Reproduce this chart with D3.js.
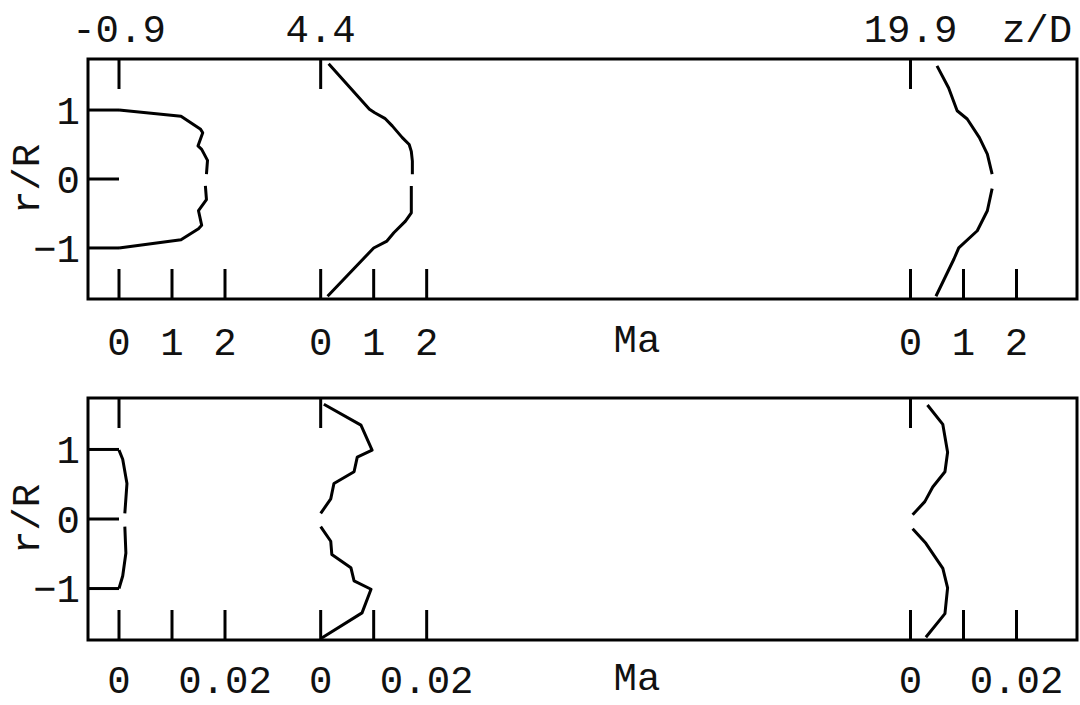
<!DOCTYPE html>
<html>
<head>
<meta charset="utf-8">
<title>Mach number profiles</title>
<script src="https://cdnjs.cloudflare.com/ajax/libs/d3/7.8.5/d3.min.js"></script>
<style>
  html, body { margin: 0; padding: 0; background: #fff; }
  svg text { font-family: "Courier New", "Liberation Mono", monospace; font-size: 39px; fill: #111; }
</style>
</head>
<body>
<div id="chart"></div>
<script>
// axial stations (z/D) and their labels
const zStations = [-0.9, 4.4, 19.9];
const zLabels = ["-0.9", "4.4", "19.9"];
const rTicks = [-1, 0, 1];
const wallR = [1, 0, -1];

// Ma ticks under each station
const maTicksTop = [0, 1, 2];
const maLabelsTop = ["0", "1", "2"];
const maTicksBottom = [0, 0.01, 0.02];
const maLabelsBottom = ["0", "", "0.02"];

// profiles as [r/R, Ma]; null breaks the line at the axis
const meanMa_m09 = [[1.0, 0], [0.91, 1.17], [0.72, 1.54], [0.67, 1.58], [0.48, 1.49], [0.43, 1.56], [0.27, 1.67], [0.07, 1.65], null,
  [-0.10, 1.63], [-0.30, 1.65], [-0.46, 1.50], [-0.67, 1.56], [-0.72, 1.50], [-0.88, 1.17], [-1.0, 0]];
const meanMa_44 = [[1.67, 0.15], [1.01, 0.92], [0.96, 1.02], [0.88, 1.21], [0.77, 1.35], [0.60, 1.54], [0.50, 1.67], [0.40, 1.71], [0.26, 1.73], [0.07, 1.73], null,
  [-0.10, 1.71], [-0.49, 1.71], [-0.61, 1.60], [-0.78, 1.38], [-0.90, 1.25], [-1.0, 1.0], [-1.70, 0.13]];
const meanMa_199 = [[1.64, 0.50], [1.32, 0.72], [0.99, 0.88], [0.87, 1.07], [0.60, 1.30], [0.36, 1.45], [0.07, 1.54], null,
  [-0.14, 1.54], [-0.46, 1.45], [-0.75, 1.26], [-1.0, 0.91], [-1.16, 0.82], [-1.70, 0.48]];

const rmsMa_m09 = [[0.99, 0], [0.86, 0.0007], [0.51, 0.0015], [0.08, 0.0011], null,
  [-0.11, 0.0011], [-0.49, 0.0013], [-0.82, 0.0007], [-1.0, 0]];
const rmsMa_44 = [[1.65, 0.0006], [1.35, 0.0076], [0.99, 0.0097], [0.89, 0.0069], [0.68, 0.0063], [0.51, 0.0025], [0.29, 0.0019], [0.08, 0.0], null,
  [-0.11, 0.0], [-0.32, 0.0019], [-0.51, 0.0021], [-0.70, 0.0057], [-0.89, 0.0063], [-1.01, 0.0095], [-1.35, 0.0078], [-1.71, 0.0002]];
const rmsMa_199 = [[1.64, 0.0032], [1.36, 0.0061], [0.96, 0.0070], [0.68, 0.0065], [0.46, 0.0042], [0.25, 0.0027], [0.06, 0.0004], null,
  [-0.14, 0.0004], [-0.35, 0.0029], [-0.71, 0.0061], [-0.99, 0.0070], [-1.36, 0.0065], [-1.70, 0.0029]];

const width = 1080, height = 705;
const left = 88, right = 1077;
const tickLen = 30;

const svg = d3.select("#chart").append("svg")
  .attr("width", width)
  .attr("height", height);

const zScale = d3.scaleLinear().domain([-0.9, 19.9]).range([119, 910.5]);

// z/D labels on top
svg.append("g").selectAll("text")
  .data(zStations)
  .enter().append("text")
  .attr("x", d => zScale(d))
  .attr("y", 42)
  .attr("text-anchor", "middle")
  .text((d, i) => zLabels[i]);

svg.append("text")
  .attr("x", 1037).attr("y", 42)
  .attr("text-anchor", "middle")
  .text("z/D");

const panels = [
  { top: 59, bottom: 299, maMax: 1, ticks: maTicksTop, labels: maLabelsTop, labelY: 355, profiles: [meanMa_m09, meanMa_44, meanMa_199] },
  { top: 398, bottom: 640, maMax: 0.01, ticks: maTicksBottom, labels: maLabelsBottom, labelY: 693, profiles: [rmsMa_m09, rmsMa_44, rmsMa_199] }
];

panels.forEach(p => {
  const g = svg.append("g");

  const rScale = d3.scaleLinear().domain([-1.74, 1.74]).range([p.bottom, p.top]);
  // Ma offset scale, ~53 px per unit (top) or per 0.01 (bottom)
  const maScale = d3.scaleLinear().domain([0, p.maMax]).range([0, 53]);

  // frame
  g.append("rect")
    .attr("x", left).attr("y", p.top)
    .attr("width", right - left).attr("height", p.bottom - p.top)
    .attr("fill", "none")
    .attr("stroke", "#000")
    .attr("stroke-width", 3);

  // nozzle walls and axis up to the first station
  g.selectAll(".wall")
    .data(wallR)
    .enter().append("line")
    .attr("x1", left).attr("x2", zScale(zStations[0]))
    .attr("y1", d => rScale(d)).attr("y2", d => rScale(d))
    .attr("stroke", "#000").attr("stroke-width", 3);

  // r/R tick labels
  g.selectAll(".rlab")
    .data(rTicks)
    .enter().append("text")
    .attr("x", 80)
    .attr("y", d => rScale(d))
    .attr("dy", "0.35em")
    .attr("text-anchor", "end")
    .text(d => d === -1 ? "\u22121" : d);

  g.append("text")
    .attr("transform", `translate(39,${(p.top + p.bottom) / 2}) rotate(-90)`)
    .attr("text-anchor", "middle")
    .text("r/R");

  zStations.forEach((z, si) => {
    const x0 = zScale(z);

    // zero tick at top
    g.append("line")
      .attr("x1", x0).attr("x2", x0)
      .attr("y1", p.top).attr("y2", p.top + tickLen)
      .attr("stroke", "#000").attr("stroke-width", 3);

    // Ma ticks at bottom
    g.selectAll(null)
      .data(p.ticks)
      .enter().append("line")
      .attr("x1", d => x0 + maScale(d)).attr("x2", d => x0 + maScale(d))
      .attr("y1", p.bottom).attr("y2", p.bottom - tickLen)
      .attr("stroke", "#000").attr("stroke-width", 3);

    g.selectAll(null)
      .data(p.ticks)
      .enter().append("text")
      .attr("x", d => x0 + maScale(d))
      .attr("y", p.labelY)
      .attr("text-anchor", "middle")
      .text((d, i) => p.labels[i]);

    const line = d3.line()
      .defined(d => d !== null)
      .x(d => x0 + maScale(d[1]))
      .y(d => rScale(d[0]));

    g.append("path")
      .datum(p.profiles[si])
      .attr("d", line)
      .attr("fill", "none")
      .attr("stroke", "#000")
      .attr("stroke-width", 3)
      .attr("stroke-linejoin", "round");
  });

  g.append("text")
    .attr("x", 637).attr("y", p.labelY - 3)
    .attr("text-anchor", "middle")
    .text("Ma");
});
</script>
</body>
</html>
